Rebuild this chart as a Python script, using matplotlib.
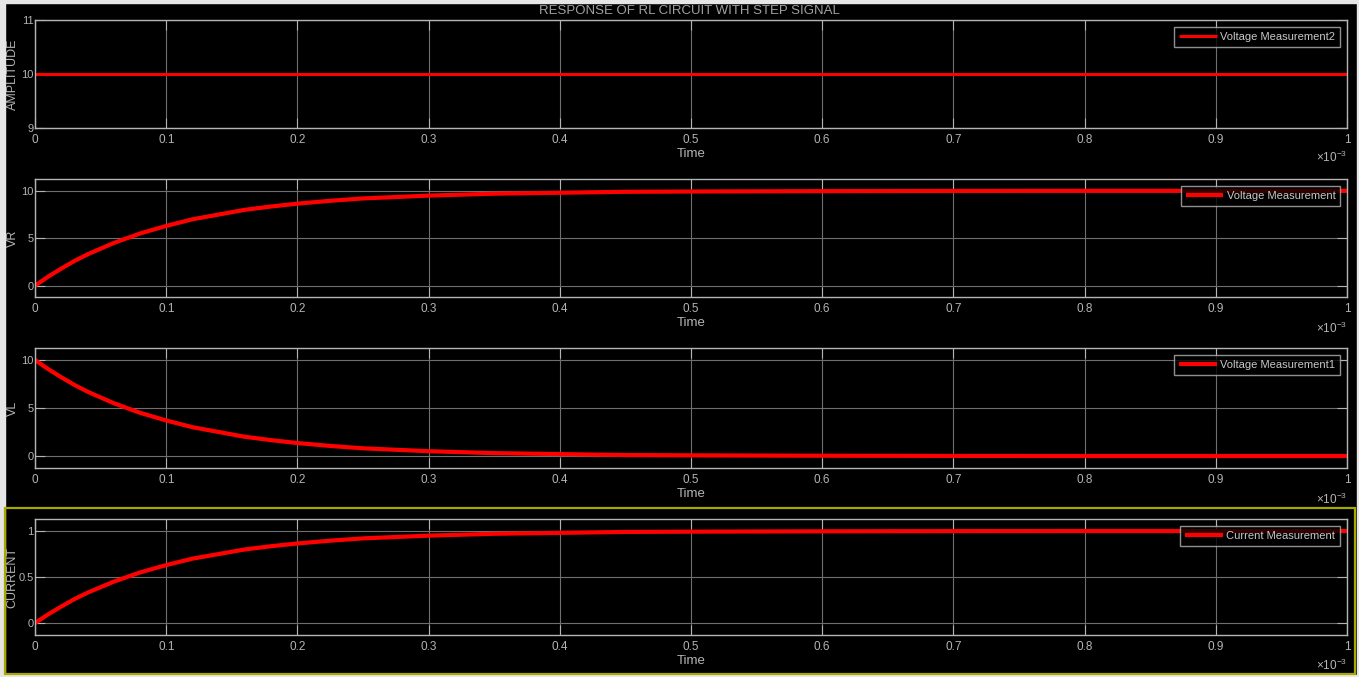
import matplotlib
matplotlib.use("Agg")
import matplotlib.pyplot as plt
from matplotlib.patches import Rectangle

plt.rcParams["font.family"] = ["Liberation Sans", "DejaVu Sans"]
plt.rcParams["mathtext.fontset"] = "custom"
plt.rcParams["mathtext.rm"] = "Liberation Sans"
plt.rcParams["mathtext.it"] = "Liberation Sans"

# Simulation time (ms) and scope readings
t_ms = [0, 0.01, 0.02, 0.03, 0.04, 0.05, 0.06, 0.07, 0.08, 0.09, 0.1,
        0.12, 0.14, 0.16, 0.18, 0.2, 0.225, 0.25, 0.275, 0.3, 0.35,
        0.4, 0.45, 0.5, 0.6, 0.7, 0.8, 0.9, 1.0]
source_v = [10] * len(t_ms)
vr = [0, 0.95, 1.8, 2.6, 3.3, 3.9, 4.5, 5.0, 5.5, 5.9, 6.3,
      7.0, 7.5, 8.0, 8.35, 8.65, 8.95, 9.2, 9.35, 9.5, 9.7,
      9.8, 9.9, 9.93, 9.97, 9.99, 10, 10, 10]
vl = [10, 9.05, 8.2, 7.4, 6.7, 6.1, 5.5, 5.0, 4.5, 4.1, 3.7,
      3.0, 2.5, 2.0, 1.65, 1.35, 1.05, 0.8, 0.65, 0.5, 0.3,
      0.2, 0.1, 0.07, 0.03, 0.01, 0, 0, 0]
current = [0, 0.095, 0.18, 0.26, 0.33, 0.39, 0.45, 0.5, 0.55, 0.59, 0.63,
           0.7, 0.75, 0.8, 0.835, 0.865, 0.895, 0.92, 0.935, 0.95, 0.97,
           0.98, 0.99, 0.993, 0.997, 0.999, 1, 1, 1]

x_ticks_ms = [0, 0.1, 0.2, 0.3, 0.4, 0.5, 0.6, 0.7, 0.8, 0.9, 1]
x_tick_labels = ["0", "0.1", "0.2", "0.3", "0.4", "0.5", "0.6", "0.7", "0.8", "0.9", "1"]

panels = [
    ("AMPLITUDE", source_v, "Voltage Measurement2", (9, 11), [9, 10, 11]),
    ("VR", vr, "Voltage Measurement", (-1.2, 11.25), [0, 5, 10]),
    ("VL", vl, "Voltage Measurement1", (-1.25, 11.25), [0, 5, 10]),
    ("CURRENT", current, "Current Measurement", (-0.13, 1.13), [0, 0.5, 1]),
]
# axes rectangles in figure fractions
rects = [
    (0.0258, 0.8109, 0.9654, 0.1595),
    (0.0258, 0.5613, 0.9654, 0.1743),
    (0.0258, 0.3087, 0.9654, 0.1773),
    (0.0258, 0.0620, 0.9654, 0.1713),
]

fg = "#b4b4b4"
grid_c = "#6e6e6e"

fig = plt.figure(figsize=(13.59, 6.77), dpi=100, facecolor="black")

# light frame round the scope window
fig.patches.append(Rectangle((0, 0), 5 / 1359, 1, transform=fig.transFigure, color="#e6e6e6", zorder=-1))
fig.patches.append(Rectangle((0, 1 - 3 / 677), 1, 3 / 677, transform=fig.transFigure, color="#e6e6e6", zorder=-1))
fig.patches.append(Rectangle((0, 0), 1, 2 / 677, transform=fig.transFigure, color="#e6e6e6", zorder=-1))
fig.patches.append(Rectangle((1 - 2 / 1359, 0), 2 / 1359, 1, transform=fig.transFigure, color="#e6e6e6", zorder=-1))
# selected-axes highlight on the last panel
fig.patches.append(Rectangle((5 / 1359, 3 / 677), 1350 / 1359, 166 / 677, transform=fig.transFigure,
                             fill=False, edgecolor="#a8a800", linewidth=1.6))

t = [v * 1e-3 for v in t_ms]
for (label, values, name, ylim, yticks), rect in zip(panels, rects):
    ax = fig.add_axes(rect, facecolor="black")
    ax.plot(t, values, color="#ff0000", linewidth=3.0 if label != "AMPLITUDE" else 2.2,
            label=name, solid_capstyle="butt")
    ax.set_xlim(0, 1e-3)
    ax.set_ylim(*ylim)
    ax.set_xticks([v * 1e-3 for v in x_ticks_ms])
    ax.set_xticklabels(x_tick_labels)
    ax.set_yticks(yticks)
    ax.set_yticklabels([f"{v:g}" for v in yticks])
    ax.grid(True, color=grid_c, linewidth=0.8)
    ax.set_axisbelow(True)
    ax.tick_params(direction="in", length=7, width=0.8, colors=fg, labelsize=8.5,
                   top=True, right=True, pad=4)
    ax.tick_params(axis="y", pad=1, labelsize=8)
    for s in ax.spines.values():
        s.set_color(fg)
        s.set_linewidth(1.0)
    ax.set_xlabel("Time", color=fg, fontsize=9.5, labelpad=2)
    ax.set_ylabel(label, color=fg, fontsize=9)
    ax.yaxis.set_label_coords(-0.0124, 0.5)
    ax.text(1.0, -0.2, r"$\times10^{-3}$", transform=ax.transAxes, ha="right", va="top",
            color=fg, fontsize=8.5)
    leg = ax.legend(loc="upper right", fontsize=8, frameon=True, fancybox=False,
                    handlelength=3.4, borderaxespad=0.6, borderpad=0.45, handletextpad=0.3)
    leg.get_frame().set_facecolor("black")
    leg.get_frame().set_edgecolor(fg)
    leg.get_frame().set_linewidth(1.0)
    for txt in leg.get_texts():
        txt.set_color("#c8c8c8")

fig.text(0.5075, 1 - 11 / 677, "RESPONSE OF RL CIRCUIT WITH STEP SIGNAL", ha="center", va="center",
         color="#a0a0a0", fontsize=9.5)

fig.savefig("out.png", dpi=100, facecolor="black")
